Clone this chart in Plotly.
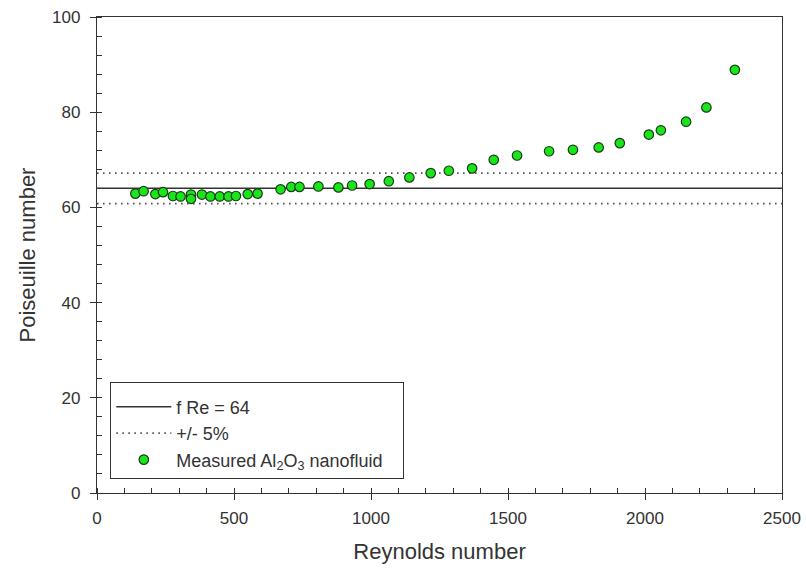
import plotly.graph_objects as go

# Measured Al2O3 nanofluid data: Reynolds number vs Poiseuille number (f·Re)
reynolds = [140, 170, 213, 241, 277, 305, 343, 343, 383, 414, 448, 480, 507,
            550, 586, 670, 709, 739, 808, 881, 931, 995, 1065, 1140, 1218,
            1284, 1369, 1448, 1533, 1650, 1737, 1831, 1908, 2014, 2058, 2150,
            2224, 2328]
poiseuille = [62.9, 63.4, 62.8, 63.2, 62.4, 62.3, 62.7, 61.8, 62.7, 62.3, 62.3,
              62.3, 62.4, 62.8, 62.9, 63.8, 64.3, 64.3, 64.4, 64.2, 64.6, 64.9,
              65.5, 66.3, 67.2, 67.7, 68.2, 70.0, 70.9, 71.8, 72.1, 72.6, 73.5,
              75.3, 76.2, 78.0, 81.0, 88.9]

# Laminar theory f·Re = 64 with a ±5 % band
theory_value = 64
band_fraction = 0.05
x_span = [0, 2500]

font_family = "Liberation Sans, Arial, sans-serif"
text_color = "#333333"
dotted = "1.6px,4.4px"

fig = go.Figure()

fig.add_trace(go.Scatter(
    x=x_span, y=[theory_value, theory_value], mode="lines",
    line=dict(color="#333333", width=1.5),
    name="f Re = 64",
))
fig.add_trace(go.Scatter(
    x=x_span, y=[theory_value * (1 + band_fraction)] * 2, mode="lines",
    line=dict(color="#555555", width=1.8, dash=dotted),
    name="+/- 5%",
))
fig.add_trace(go.Scatter(
    x=x_span, y=[theory_value * (1 - band_fraction)] * 2, mode="lines",
    line=dict(color="#555555", width=1.8, dash=dotted),
    name="+/- 5%", showlegend=False,
))
fig.add_trace(go.Scatter(
    x=reynolds, y=poiseuille, mode="markers",
    marker=dict(size=9.5, color="#19e619", line=dict(color="#1a3a1a", width=1.2)),
    # non-breaking spaces widen the legend box a little
    name="Measured Al<sub>2</sub>O<sub>3</sub> nanofluid\u00a0\u00a0\u00a0",
))

axis_common = dict(
    showline=True, linecolor="#333333", linewidth=1.3, mirror=True,
    showgrid=False, zeroline=False, automargin=False,
    ticks="outside", ticklen=6, tickwidth=1, tickcolor="#333333",
    tickfont=dict(family=font_family, size=17, color=text_color),
)

fig.update_xaxes(
    range=[0, 2500], tick0=0, dtick=500,
    minor=dict(ticks="inside", ticklen=5, dtick=100, tickcolor="#333333", tickwidth=1),
    ticklabelstandoff=3,
    title=dict(text="Reynolds number", font=dict(family=font_family, size=22, color=text_color),
               standoff=17),
    **axis_common,
)
fig.update_yaxes(
    range=[0, 100], tick0=0, dtick=20,
    minor=dict(ticks="inside", ticklen=5, dtick=4, tickcolor="#333333", tickwidth=1),
    ticklabelstandoff=6,
    title=dict(text="Poiseuille number", font=dict(family=font_family, size=22, color=text_color),
               standoff=10),
    **axis_common,
)

fig.update_layout(
    width=806, height=578,
    margin=dict(l=97, r=24, t=17, b=85),
    paper_bgcolor="white", plot_bgcolor="white",
    font=dict(family=font_family, color=text_color),
    legend=dict(
        x=0.019, y=0.233, xanchor="left", yanchor="top",
        bgcolor="white", bordercolor="#333333", borderwidth=1.3,
        font=dict(family=font_family, size=18, color=text_color),
        title=dict(text=" ", font=dict(size=4)),
        itemwidth=55,
    ),
)

fig.write_html("out.html")
